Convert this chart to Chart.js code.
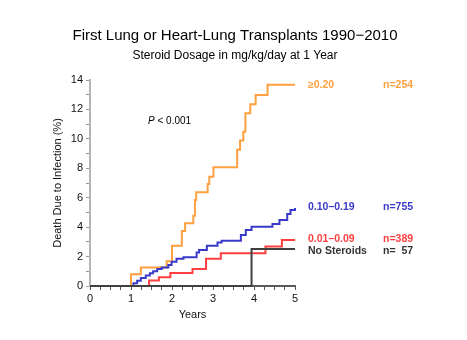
<!DOCTYPE html>
<html>
<head>
<meta charset="utf-8">
<script src="https://cdn.jsdelivr.net/npm/chart.js@4.4.1/dist/chart.umd.min.js"></script>
<style>
  html, body { margin: 0; padding: 0; background: #fff; }
  #wrap { width: 467px; height: 340px; }
</style>
</head>
<body>
<div id="wrap"><canvas id="infection-chart" width="467" height="340"></canvas></div>
<script>
// steroid dose groups, cumulative death due to infection (%)
const highYears = [0, 1.0, 1.24, 1.87, 2.0, 2.24, 2.32, 2.52, 2.56, 2.59, 2.87, 2.91, 3.01, 3.59, 3.66, 3.74, 3.79, 3.91, 4.04, 4.33, 5];
const highDeaths = [0, 0.8, 1.25, 1.68, 2.74, 3.74, 4.26, 4.78, 5.85, 6.37, 6.93, 7.43, 8.07, 9.26, 9.88, 10.49, 11.74, 12.35, 12.98, 13.68, 13.68];

const midYears = [0, 1.06, 1.15, 1.24, 1.36, 1.46, 1.54, 1.64, 1.75, 1.91, 1.99, 2.11, 2.28, 2.6, 2.66, 2.85, 3.11, 3.21, 3.68, 3.8, 3.94, 4.45, 4.62, 4.81, 4.89, 5];
const midDeaths = [0, 0.18, 0.36, 0.54, 0.72, 0.86, 1.0, 1.15, 1.25, 1.43, 1.65, 1.86, 1.95, 2.27, 2.45, 2.74, 2.95, 3.08, 3.47, 3.81, 4.03, 4.21, 4.49, 4.89, 5.17, 5.3];

const lowYears = [0, 1.44, 1.68, 1.96, 2.5, 2.83, 3.19, 4.28, 4.68, 5];
const lowDeaths = [0, 0.38, 0.6, 0.88, 1.15, 1.85, 2.22, 2.68, 3.13, 3.13];

const noneYears = [0, 3.94, 5];
const noneDeaths = [0, 2.51, 2.51];

const groupLabels = ['\u22650.20', '0.10\u20130.19', '0.01\u20130.09', 'No Steroids'];
const groupCounts = ['n=254', 'n=755', 'n=389', 'n=  57'];
const groupColors = ['#ffa040', '#3a3ac8', '#ff4040', '#404040'];

const xTickLabels = [0, 1, 2, 3, 4, 5];
const yTickLabels = [0, 2, 4, 6, 8, 10, 12, 14];

const FONT = '"Liberation Sans", Arial, Helvetica, sans-serif';

function toPoints(xs, ys) {
    return xs.map(function (x, i) { return { x: x, y: ys[i] }; });
}

function series(i, xs, ys) {
    return {
        label: groupLabels[i],
        data: toPoints(xs, ys),
        borderColor: groupColors[i],
        borderWidth: 2,
        stepped: 'before',
        pointRadius: 0,
        fill: false,
        clip: false
    };
}

// titles, p value and right-hand group labels
const textPlugin = {
    id: 'texts',
    afterDraw: function (chart) {
        const c = chart.ctx;
        const yScale = chart.scales.y;
        c.save();
        c.fillStyle = '#000';
        c.textAlign = 'center';
        c.textBaseline = 'middle';
        c.font = '15px ' + FONT;
        c.fillText('First Lung or Heart-Lung Transplants 1990\u22122010', 235, 36);
        c.font = '12px ' + FONT;
        c.fillText('Steroid Dosage in mg/kg/day at 1 Year', 235, 56);

        c.textAlign = 'left';
        c.font = 'italic 10px ' + FONT;
        c.fillText('P', 148, 121);
        const pw = c.measureText('P').width;
        c.font = '10px ' + FONT;
        c.fillText(' < 0.001', 148 + pw, 121);

        const labelY = [85, 207, 239, 251];
        c.font = 'bold 10.5px ' + FONT;
        for (let i = 0; i < groupLabels.length; i++) {
            c.fillStyle = groupColors[i] === '#404040' ? '#333' : groupColors[i];
            c.fillText(groupLabels[i], 308, labelY[i]);
            c.fillText(groupCounts[i], 383, labelY[i]);
        }
        c.restore();
    }
};

const ctx = document.getElementById('infection-chart').getContext('2d');
new Chart(ctx, {
    type: 'line',
    data: {
        datasets: [
            series(3, noneYears, noneDeaths),
            series(2, lowYears, lowDeaths),
            series(1, midYears, midDeaths),
            series(0, highYears, highDeaths)
        ]
    },
    options: {
        responsive: false,
        animation: false,
        layout: { padding: { left: 46, right: 172, top: 80, bottom: 0 } },
        plugins: {
            legend: { display: false },
            tooltip: { enabled: false }
        },
        scales: {
            x: {
                type: 'linear',
                min: 0,
                max: 5,
                afterFit: function (s) { s.height = 54; },
                ticks: {
                    stepSize: 0.25,
                    autoSkip: false,
                    maxRotation: 0,
                    padding: 2,
                    color: '#111',
                    font: { family: FONT, size: 11 },
                    callback: function (v) { return xTickLabels.indexOf(v) >= 0 ? String(v) : ''; }
                },
                grid: { drawOnChartArea: false, tickLength: 4, color: '#555', lineWidth: 1 },
                border: { color: '#5a5a5a', width: 2 },
                title: {
                    display: true,
                    text: 'Years',
                    color: '#111',
                    font: { family: FONT, size: 11 },
                    padding: { top: 0, bottom: 18 }
                }
            },
            y: {
                min: 0,
                max: 14,
                afterFit: function (s) { s.width = 44; },
                ticks: {
                    stepSize: 1,
                    autoSkip: false,
                    padding: 3,
                    color: '#111',
                    font: { family: FONT, size: 11 },
                    callback: function (v) { return yTickLabels.indexOf(v) >= 0 ? String(v) : ''; }
                },
                grid: { drawOnChartArea: false, tickLength: 4, color: '#999', lineWidth: 1 },
                border: { color: '#b4b4b4', width: 2 },
                title: {
                    display: true,
                    text: 'Death Due to Infection (%)',
                    color: '#111',
                    font: { family: FONT, size: 11 },
                    padding: { top: 5, bottom: 0 }
                }
            }
        }
    },
    plugins: [textPlugin]
});
</script>
</body>
</html>
